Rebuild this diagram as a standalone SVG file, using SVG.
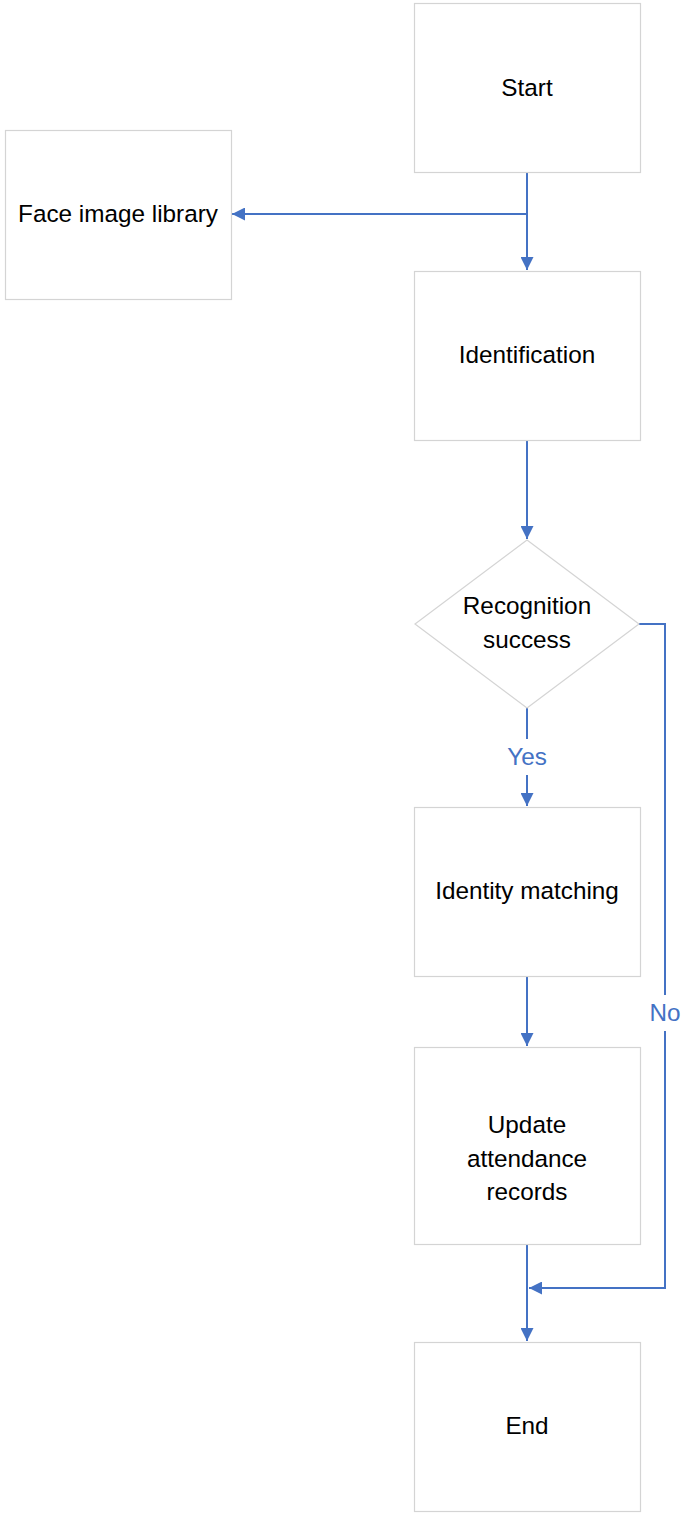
<svg xmlns="http://www.w3.org/2000/svg" width="697" height="1515" viewBox="0 0 697 1515">
<style>
.box{fill:#fff;stroke:#d4d4d4;stroke-width:1.2}
.t{font-family:"Liberation Sans",Arial,sans-serif;font-size:24.3px;fill:#000;text-anchor:middle}
.lbl{font-family:"Liberation Sans",Arial,sans-serif;font-size:24.3px;fill:#4472C4;text-anchor:middle}
.c{fill:none;stroke:#4472C4;stroke-width:2}
</style>
<defs>
<marker id="a" viewBox="0 0 12 12" refX="12" refY="6" markerWidth="13" markerHeight="13" markerUnits="userSpaceOnUse" orient="auto">
<path d="M0,0 L12,6 L0,12 Z" fill="#4472C4"/>
</marker>
</defs>
<rect width="697" height="1515" fill="#fff"/>
<g id="connectors">
<path class="c" d="M527,172 V270" marker-end="url(#a)"/>
<path class="c" d="M527,214 H232" marker-end="url(#a)"/>
<path class="c" d="M527,440 V539" marker-end="url(#a)"/>
<path class="c" d="M527,708 V806" marker-end="url(#a)"/>
<path class="c" d="M527,976 V1046" marker-end="url(#a)"/>
<path class="c" d="M527,1244 V1341" marker-end="url(#a)"/>
<path class="c" d="M639,624 H665 V1288 H529" marker-end="url(#a)"/>
<rect x="498" y="739" width="58" height="36" fill="#fff"/>
<text class="lbl" x="527" y="765">Yes</text>
<rect x="643" y="995" width="44" height="36" fill="#fff"/>
<text class="lbl" x="665" y="1021">No</text>
</g>
<g id="start">
<rect class="box" x="414.5" y="3.5" width="226" height="169"/>
<text class="t" x="527" y="96">Start</text>
</g>
<g id="face-library">
<rect class="box" x="5.5" y="130.5" width="226" height="169"/>
<text class="t" x="118" y="222">Face image library</text>
</g>
<g id="identification">
<rect class="box" x="414.5" y="271.5" width="226" height="169"/>
<text class="t" x="527" y="363">Identification</text>
</g>
<g id="recognition">
<path class="box" d="M527,540 L639,624 L527,708 L415,624 Z"/>
<text class="t" x="527" y="614">Recognition</text>
<text class="t" x="527" y="648">success</text>
</g>
<g id="identity">
<rect class="box" x="414.5" y="807.5" width="226" height="169"/>
<text class="t" x="527" y="899">Identity matching</text>
</g>
<g id="update">
<rect class="box" x="414.5" y="1047.5" width="226" height="197"/>
<text class="t" x="527" y="1133">Update</text>
<text class="t" x="527" y="1167">attendance</text>
<text class="t" x="527" y="1200">records</text>
</g>
<g id="end">
<rect class="box" x="414.5" y="1342.5" width="226" height="169"/>
<text class="t" x="527" y="1434">End</text>
</g>
</svg>
